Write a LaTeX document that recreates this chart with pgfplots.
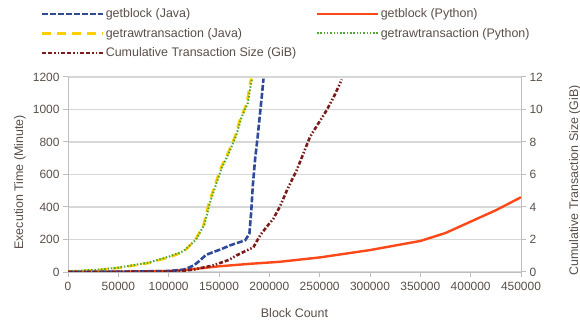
\documentclass[border=0pt]{standalone}
\usepackage{fontspec}
\setmainfont{Liberation Sans}
\usepackage{pgfplots}
\pgfplotsset{compat=1.18}
\definecolor{cblue}{RGB}{46,74,154}
\definecolor{cred}{RGB}{255,72,24}
\definecolor{cyellow}{RGB}{255,206,0}
\definecolor{cgreen}{RGB}{80,168,50}
\definecolor{cdark}{RGB}{123,28,28}
\definecolor{ctext}{RGB}{90,78,72}
\definecolor{caxis}{RGB}{190,190,190}
\definecolor{cgrid}{RGB}{215,215,215}
\pgfplotsset{
  common/.style={
    at={(68bp,52bp)}, anchor=south west,
    scale only axis, width=453bp, height=195bp,
    xmin=0, xmax=450000,
    axis line style={-, caxis, line width=1bp},
    tick style={caxis, line width=1bp},
    major tick length=5bp, tick align=outside,
    ticklabel style={font=\fontsize{12}{14}\selectfont, text=ctext},
    label style={font=\fontsize{12.5}{14}\selectfont, text=ctext},
    /pgf/number format/assume math mode=true,
    /pgf/number format/1000 sep={},
    scaled x ticks=false, scaled y ticks=false,
    clip=true,
  },
  bluestyle/.style={cblue, line width=2.6bp, dash pattern=on 6bp off 2bp},
  redstyle/.style={cred, line width=2.4bp},
  yellowstyle/.style={cyellow, line width=2.6bp, dash pattern=on 9bp off 6bp},
  greenstyle/.style={cgreen, line width=2bp, dash pattern=on 1.5bp off 1.8bp},
  darkstyle/.style={cdark, line width=2.6bp, dash pattern=on 4bp off 2bp on 4bp off 2bp on 1.5bp off 2bp on 1.5bp off 2bp},
}
\begin{document}
\begin{tikzpicture}
\path[use as bounding box] (0bp,0bp) rectangle (580bp,324bp);
\begin{axis}[common,
  axis x line*=bottom, axis y line*=left,
  ymin=0, ymax=1200, ytick={0,200,...,1200},
  yticklabels={0,200,400,600,800,1000,1200},
  xtick={0,50000,100000,150000,200000,250000,300000,350000,400000,450000},
  xticklabels={0,50000,100000,150000,200000,250000,300000,350000,400000,450000},
  xticklabel style={yshift=-2bp},
  ymajorgrids, grid style={cgrid, line width=1.5bp},
  xlabel={Block Count},
  xlabel style={at={(rel axis cs:0.5,-0.21)}, anchor=center},
  ylabel={Execution Time (Minute)},
  ylabel style={at={(rel axis cs:-0.106,0.46)}, anchor=center},
]
\addplot[redstyle] coordinates {
 (0,0) (50000,2) (100000,6) (120000,15) (150000,35) (180000,50) (210700,63)
 (250500,90) (300000,135) (350000,191) (375000,240) (400000,310) (425000,380) (450000,460)};
\addplot[yellowstyle] coordinates {
 (0,3) (30000,12) (50000,25) (80000,55) (100000,90) (114600,123) (126200,195)
 (134500,287) (140000,425) (151100,630) (159300,738) (166000,835) (171000,943)
 (177600,1036) (181000,1169) (182500,1190)};
\addplot[greenstyle] coordinates {
 (0,4) (30000,14) (50000,27) (80000,58) (100000,94) (114600,128) (127000,198)
 (135500,292) (141200,430) (152300,635) (160500,742) (167200,842) (172200,948)
 (178600,1040) (181800,1160) (182800,1190)};
\addplot[bluestyle] coordinates {
 (0,0) (50000,2) (100000,6) (115000,15) (125000,40) (131200,72) (137000,105)
 (144500,123) (152000,140) (161000,164) (176000,195) (180200,236) (182000,369)
 (183600,533) (185900,697) (188200,820) (190900,985) (192500,1080) (194200,1190)};
\end{axis}
\begin{axis}[common,
  axis x line=none, axis y line*=right,
  ymin=0, ymax=12, ytick={0,2,...,12},
  yticklabels={0,2,4,6,8,10,12},
  ylabel={Cumulative Transaction Size (GiB)},
  ylabel style={at={(rel axis cs:1.119,0.47)}, anchor=center},
  legend columns=2,
  legend cell align=left,
  legend style={at={(rel axis cs:-0.0607,1.359)}, anchor=north west, draw=none, fill=none,
    font=\fontsize{12.5}{14}\selectfont, text=ctext,
    inner sep=0pt,
    nodes={inner sep=1.5bp},
    row sep=6bp,
    /tikz/every even column/.append style={column sep=18bp}},
  legend image code/.code={\draw[#1] (0bp,0bp) -- (61bp,0bp);},
]
\addlegendimage{bluestyle}
\addlegendentry{getblock (Java)}
\addlegendimage{redstyle}
\addlegendentry{getblock (Python)}
\addlegendimage{yellowstyle}
\addlegendentry{getrawtransaction (Java)}
\addlegendimage{greenstyle}
\addlegendentry{getrawtransaction (Python)}
\addplot[darkstyle] coordinates {
 (0,0) (100000,0.02) (110000,0.05) (125000,0.15) (144500,0.41) (160000,0.75)
 (167700,1.03) (181000,1.43) (184000,1.5) (190900,2.26) (197500,2.79) (204000,3.28)
 (210700,4.05) (218000,5.1) (227300,6.28) (240500,8.33) (257100,9.97) (265000,10.9) (272000,11.85)};
\addlegendentry{Cumulative Transaction Size (GiB)}
\end{axis}
\end{tikzpicture}
\end{document}
